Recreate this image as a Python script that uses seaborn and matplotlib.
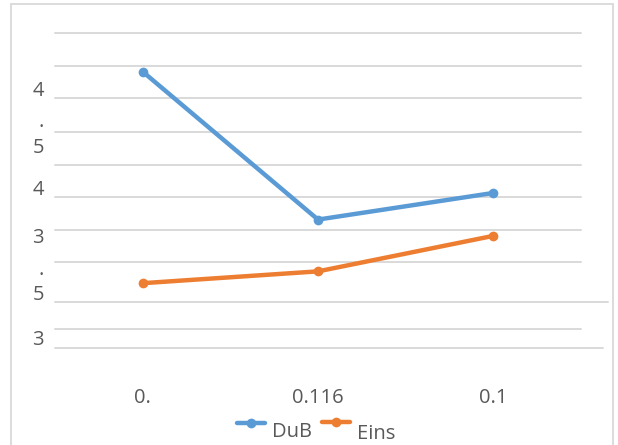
import matplotlib
matplotlib.use("Agg")
import matplotlib.pyplot as plt
import seaborn as sns
import pandas as pd
from matplotlib.patches import Rectangle
from matplotlib.lines import Line2D

sns.set_theme(style="white")
plt.rcParams['font.family'] = ['Open Sans', 'DejaVu Sans']

# data
categories = ["0.", "0.116", "0.1"]
dub = [4.80, 3.80, 3.98]
eins = [3.37, 3.45, 3.69]
series_names = ["DuB", "Eins"]

# garbled (wrapped) axis labels as in the reference
ytick_pos = [4.689, 4.473, 4.304, 4.020, 3.689, 3.473, 3.304, 3.0]
ytick_labels = ["4", ".", "5", "4", "3", ".", "5", "3"]
grid_vals = [5.06, 4.84, 4.62, 4.39, 4.17, 3.95, 3.73, 3.51, 3.24, 3.06, 2.93]
grid_long = {3.24: 608, 2.93: 603}

df = pd.DataFrame({
    "x": categories * 2,
    "y": dub + eins,
    "series": [series_names[0]] * 3 + [series_names[1]] * 3,
})

blue = "#5B9BD5"
orange = "#ED7D31"
grey = "#d9d9d9"
txt = "#595959"
fs = 14.5

W, H = 618, 445
fig = plt.figure(figsize=(W / 100, H / 100), dpi=100)
fig.patch.set_facecolor("white")
fig.add_artist(Rectangle((11 / W, -0.1), (613 - 11) / W, (H - 4) / H + 0.1,
                         transform=fig.transFigure, fill=False,
                         edgecolor=grey, lw=1.3))

left, right, top, bottom = 55, 581, 33, 348
ax = fig.add_axes([left / W, 1 - bottom / H, (right - left) / W, (bottom - top) / H])

for g in grid_vals:
    end = grid_long.get(g, right)
    ax.axhline(g, xmin=0, xmax=(end - left) / (right - left), color=grey,
               lw=1.4, clip_on=False, zorder=0)

sns.lineplot(data=df, x="x", y="y", hue="series", palette=[blue, orange],
             marker="o", markersize=7, markeredgewidth=0, linewidth=3.2,
             ax=ax, legend=False, sort=False)

ax.set_xlim(-0.5, 2.5)
ax.set_ylim(2.932, 5.061)
for s in ax.spines.values():
    s.set_visible(False)
ax.set_xlabel("")
ax.set_ylabel("")
ax.set_yticks(ytick_pos, ytick_labels)
ax.tick_params(axis="y", length=0, pad=8, labelsize=fs, labelcolor=txt)
ax.tick_params(axis="x", length=0, pad=29, labelsize=fs, labelcolor=txt)

# legend drawn by hand: text sits below the line keys, as in the reference
legend_keys = [(237, 265, 423, 272, 432), (322, 350, 422, 357, 434)]
for (x0, x1, yk, xt, yt), col, name in zip(legend_keys, [blue, orange], series_names):
    fig.add_artist(Line2D([x0 / W, x1 / W], [1 - yk / H] * 2, color=col, lw=3.2,
                          transform=fig.transFigure))
    fig.add_artist(Line2D([(x0 + x1) / 2 / W], [1 - yk / H], color=col, marker="o",
                          markersize=7, markeredgewidth=0, transform=fig.transFigure))
    fig.text(xt / W, 1 - yt / H, name, ha="left", va="center", fontsize=fs, color=txt)

fig.savefig("out.png", dpi=100, facecolor="white")
